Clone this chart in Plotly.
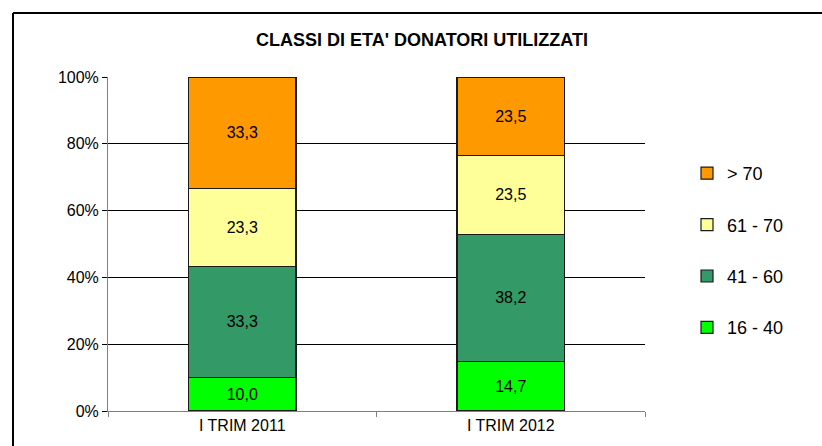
import plotly.graph_objects as go

categories = ["I TRIM 2011", "I TRIM 2012"]
series_names = ["16 - 40", "41 - 60", "61 - 70", "> 70"]
values_16_40 = [10.0, 14.7]
values_41_60 = [33.3, 38.2]
values_61_70 = [23.3, 23.5]
values_over_70 = [33.3, 23.5]
colors = ["#00FF00", "#339966", "#FFFF99", "#FF9900"]
legend_ranks = [4, 3, 2, 1]
y_ticks = [0, 20, 40, 60, 80, 100]
y_tick_labels = ["0%", "20%", "40%", "60%", "80%", "100%"]

all_values = [values_16_40, values_41_60, values_61_70, values_over_70]

OFF = 0  # body margin removed by post_script
W, H = 822 - OFF, 446 - OFF
L, R, T, B = 108 - OFF, 645 - OFF, 77 - OFF, 411 - OFF

def px(x):
    return (x - OFF - L) / (R - L)

def py(y):
    return (B - (y - OFF)) / (B - T)

FONT = "Liberation Sans, Arial, sans-serif"

fig = go.Figure()
for name, vals, col, rank in zip(series_names, all_values, colors, legend_ranks):
    fig.add_trace(go.Bar(
        x=categories, y=vals, name=name, legendgroup=name, legendrank=rank,
        marker=dict(color=col, line=dict(color="#1a1a1a", width=1.2)),
        text=[f"{v:.1f}".replace(".", ",") for v in vals],
        textposition="inside", insidetextanchor="middle",
        textfont=dict(family=FONT, size=16, color="black"),
        insidetextfont=dict(family=FONT, size=16, color="black"),
        width=0.4, hoverinfo="skip",
    ))

fig.update_layout(
    width=W, height=H,
    margin=dict(l=L, r=W - R, t=T, b=H - B, pad=0),
    barmode="stack", barnorm="percent",
    plot_bgcolor="white", paper_bgcolor="white",
    font=dict(family=FONT, color="black"),
    title=dict(text="<b>CLASSI DI ETA' DONATORI UTILIZZATI</b>",
               x=px(422), xref="paper", xanchor="center",
               y=(H - (39.5 - OFF)) / H, yref="container", yanchor="middle",
               font=dict(family=FONT, size=18, color="black")),
    showlegend=True,
    legend=dict(x=px(687), y=py(155), xanchor="left", yanchor="top",
                traceorder="grouped", tracegroupgap=25,
                font=dict(family=FONT, size=18, color="black"),
                bgcolor="rgba(0,0,0,0)", itemwidth=30),
    xaxis=dict(showline=True, linecolor="#808080", linewidth=1,
               ticks="outside", tickson="boundaries", ticklen=5, tickcolor="#808080",
               tickfont=dict(family=FONT, size=16, color="black"),
               showgrid=False, zeroline=False),
    yaxis=dict(range=[0, 100], tickvals=y_ticks, ticktext=y_tick_labels,
               showline=True, linecolor="#808080", linewidth=1,
               ticks="outside", ticklen=5, tickcolor="black",
               tickfont=dict(family=FONT, size=16, color="black"),
               showgrid=True, gridcolor="black", gridwidth=1, zeroline=False),
    shapes=[
        dict(type="line", xref="paper", yref="paper", x0=px(13), x1=px(822),
             y0=py(13), y1=py(13), line=dict(color="black", width=2)),
        dict(type="line", xref="paper", yref="paper", x0=px(13), x1=px(13),
             y0=py(13), y1=py(446), line=dict(color="black", width=2)),
    ],
)

fig.write_html(
    "out.html",
    config={"displayModeBar": False},
    post_script="document.documentElement.style.margin='0';"
                "document.body.style.margin='0';"
                "document.documentElement.style.overflow='hidden';"
                "document.body.style.overflow='hidden';",
)
